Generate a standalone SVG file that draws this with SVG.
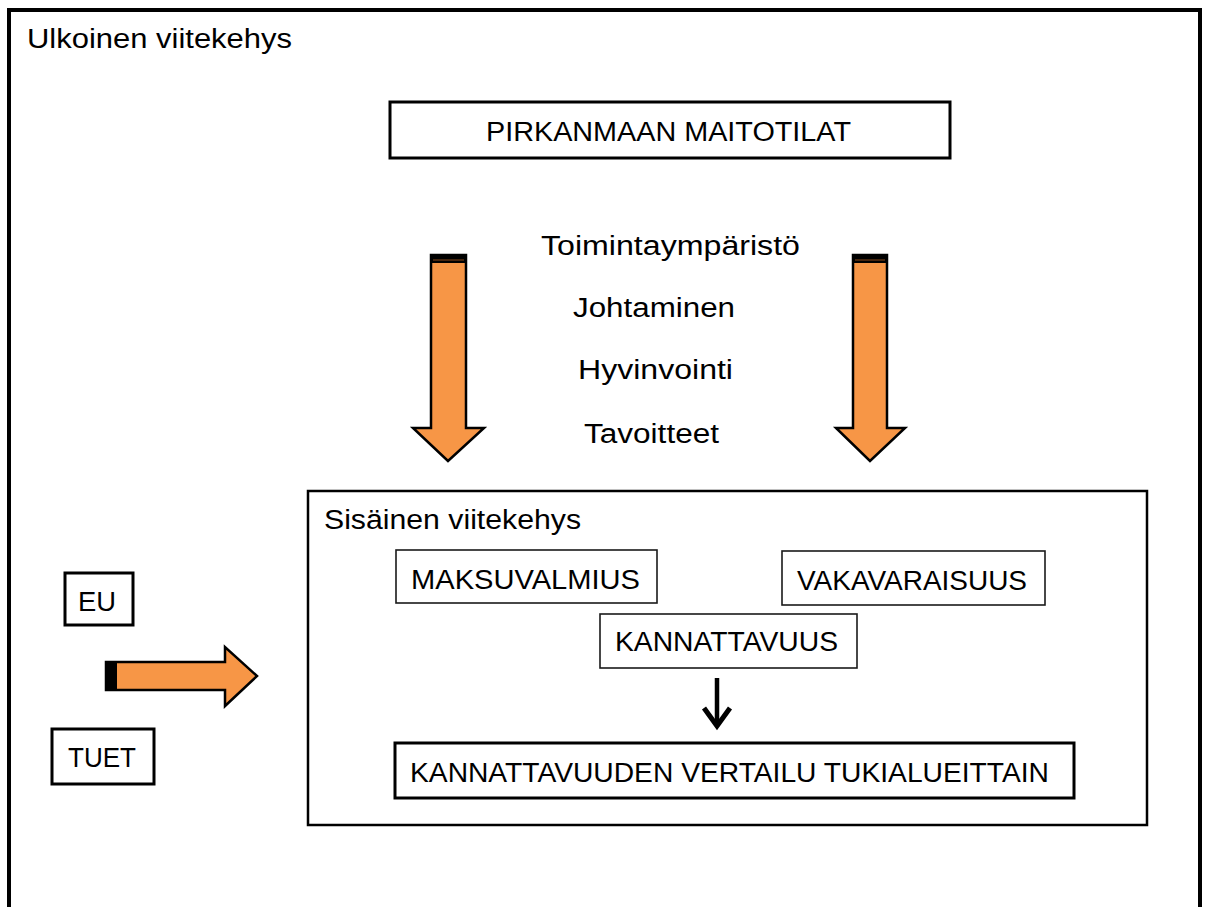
<svg xmlns="http://www.w3.org/2000/svg" width="1206" height="907" viewBox="0 0 1206 907">
<style>
text{font-family:"Liberation Sans","Open Sans",sans-serif;font-size:27px;fill:#000}
.thick{fill:#fff;stroke:#000;stroke-width:3}
.thin{fill:#fff;stroke:#1a1a1a;stroke-width:1.6}
.oarrow{fill:#f79646;stroke:#000;stroke-width:2.5;stroke-linejoin:miter}
</style>
<rect width="1206" height="907" fill="#fff"/>
<g id="outer">
<path d="M9,920 V10 H1200 V920" fill="none" stroke="#000" stroke-width="4"/>
<text x="27" y="48" textLength="265" lengthAdjust="spacingAndGlyphs">Ulkoinen viitekehys</text>
</g>
<g id="pirkanmaan">
<rect class="thick" x="390" y="102" width="560" height="56"/>
<text x="486" y="141" textLength="365" lengthAdjust="spacingAndGlyphs">PIRKANMAAN MAITOTILAT</text>
</g>
<g id="factors">
<text x="541" y="255" textLength="259" lengthAdjust="spacingAndGlyphs">Toimintaympäristö</text>
<text x="573" y="317" textLength="162" lengthAdjust="spacingAndGlyphs">Johtaminen</text>
<text x="578" y="379" textLength="155" lengthAdjust="spacingAndGlyphs">Hyvinvointi</text>
<text x="584" y="443" textLength="135" lengthAdjust="spacingAndGlyphs">Tavoitteet</text>
</g>
<g id="sisainen">
<rect x="308" y="491" width="839" height="334" fill="#fff" stroke="#000" stroke-width="2.5"/>
<text x="324" y="529" textLength="257" lengthAdjust="spacingAndGlyphs">Sisäinen viitekehys</text>
</g>
<g id="maksuvalmius">
<rect class="thin" x="396" y="550" width="261" height="53"/>
<text x="411" y="589" textLength="229" lengthAdjust="spacingAndGlyphs">MAKSUVALMIUS</text>
</g>
<g id="vakavaraisuus">
<rect class="thin" x="782" y="551" width="263" height="54"/>
<text x="797" y="590" textLength="230" lengthAdjust="spacingAndGlyphs">VAKAVARAISUUS</text>
</g>
<g id="kannattavuus">
<rect class="thin" x="600" y="614" width="257" height="54"/>
<text x="615" y="651" textLength="223" lengthAdjust="spacingAndGlyphs">KANNATTAVUUS</text>
</g>
<g id="vertailu">
<rect class="thick" x="395" y="743" width="679" height="55" stroke-width="2.5"/>
<text x="410" y="782" textLength="639" lengthAdjust="spacingAndGlyphs">KANNATTAVUUDEN VERTAILU TUKIALUEITTAIN</text>
</g>
<g id="eu">
<rect class="thick" x="65" y="573" width="68" height="52" stroke-width="2.5"/>
<text x="78" y="611" textLength="38" lengthAdjust="spacingAndGlyphs">EU</text>
</g>
<g id="tuet">
<rect class="thick" x="52" y="729" width="102" height="55" stroke-width="2.5"/>
<text x="68" y="767" textLength="68" lengthAdjust="spacingAndGlyphs">TUET</text>
</g>
<g id="connectors">
<g id="arrow-left-down">
<path class="oarrow" d="M431,255 H466 V428 H484 L448,461 L413,428 H431 Z"/>
<rect x="431" y="255" width="35" height="8" fill="#000"/>
<line x1="433" y1="260" x2="464" y2="260" stroke="#8b4a1c" stroke-width="1"/>
</g>
<g id="arrow-right-down">
<path class="oarrow" d="M853,255 H887 V428 H905 L870,461 L836,428 H853 Z"/>
<rect x="853" y="255" width="34" height="8" fill="#000"/>
<line x1="855" y1="260" x2="885" y2="260" stroke="#8b4a1c" stroke-width="1"/>
</g>
<g id="arrow-horizontal">
<path class="oarrow" d="M106,662 H225 V647 L257,676 L225,706 V690 H106 Z"/>
<rect x="106" y="662" width="11" height="28" fill="#000"/>
</g>
<g id="arrow-small">
<line x1="717" y1="678" x2="717" y2="724" stroke="#000" stroke-width="4.5"/>
<polyline points="704,708 717,726 730,708" fill="none" stroke="#000" stroke-width="5" stroke-linejoin="miter"/>
</g>
</g>
</svg>
